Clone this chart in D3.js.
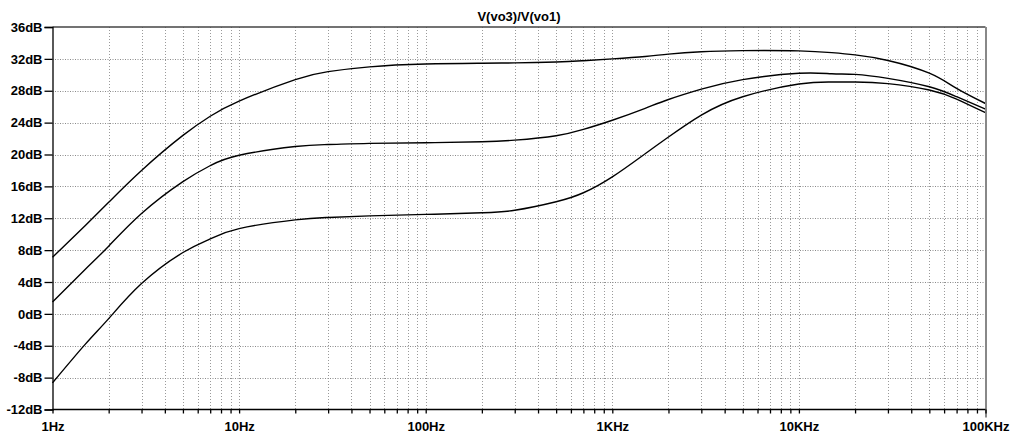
<!DOCTYPE html>
<html>
<head>
<meta charset="utf-8">
<script src="https://cdn.jsdelivr.net/npm/d3@7"></script>
<style>
  html, body { margin: 0; padding: 0; background: #fff; }
  svg { display: block; }
  text { font-family: "Liberation Sans", Arial, sans-serif; font-weight: bold; font-size: 13px; fill: #000; }
</style>
</head>
<body>
<svg id="chart" width="1011" height="435"></svg>
<script>
// Frequency points (Hz) of the AC sweep
const freqs = [1, 1.5, 2, 3, 5, 7, 10, 20, 30, 50, 100, 200, 300, 500, 700, 1000, 1500, 2000, 3000, 5000, 10000, 15000, 20000, 30000, 50000, 70000, 100000];

// Gain V(vo3)/V(vo1) in dB, three traces
const gainTop = [7.1, 11.1, 14.0, 18.0, 22.4, 24.8, 26.7, 29.4, 30.4, 31.0, 31.35, 31.45, 31.5, 31.6, 31.77, 32.0, 32.3, 32.6, 32.9, 33.03, 33.0, 32.78, 32.5, 31.8, 30.2, 28.3, 26.4];
const gainMid = [1.5, 5.6, 8.5, 12.6, 16.6, 18.6, 19.9, 21.0, 21.25, 21.4, 21.48, 21.6, 21.8, 22.36, 23.15, 24.3, 25.8, 26.9, 28.2, 29.4, 30.2, 30.14, 30.06, 29.56, 28.5, 27.25, 25.7];
const gainLow = [-8.66, -3.8, -0.6, 3.8, 7.7, 9.4, 10.7, 11.8, 12.1, 12.3, 12.48, 12.69, 13.0, 14.07, 15.2, 17.2, 20.1, 22.2, 24.95, 27.25, 28.84, 29.1, 29.1, 28.9, 28.1, 26.96, 25.24];

// Axis ticks
const xMajor = [1, 10, 100, 1000, 10000, 100000];
const xLabels = ["1Hz", "10Hz", "100Hz", "1KHz", "10KHz", "100KHz"];
const yTicks = [-12, -8, -4, 0, 4, 8, 12, 16, 20, 24, 28, 32, 36];
const title = "V(vo3)/V(vo1)";

const svg = d3.select("#chart");
const plotL = 52.5, plotR = 985.5, plotT = 27, plotB = 409.5;

const x = d3.scaleLog().domain([1, 100000]).range([plotL, plotR]);
const y = d3.scaleLinear().domain([-12, 36]).range([plotB, plotT]);

// every 1..9 step of each decade
const xAll = [];
for (let d = 1; d < 100000; d *= 10) for (let k = 1; k < 10; k++) xAll.push(d * k);
xAll.push(100000);

// grid
const grid = svg.append("g");
grid.selectAll("line.v").data(xAll.filter(v => v > 1 && v < 100000)).join("line")
  .attr("x1", d => Math.round(x(d)) + 0.5).attr("x2", d => Math.round(x(d)) + 0.5)
  .attr("y1", plotT).attr("y2", plotB)
  .attr("stroke", "#9a9a9a").attr("stroke-width", 1).attr("stroke-dasharray", "1,2");
grid.selectAll("line.h").data(yTicks.filter(v => v > -12 && v < 36)).join("line")
  .attr("y1", d => Math.round(y(d)) + 0.5).attr("y2", d => Math.round(y(d)) + 0.5)
  .attr("x1", plotL).attr("x2", plotR)
  .attr("stroke", "#8a8a8a").attr("stroke-width", 1).attr("stroke-dasharray", "1,1.5");

// traces
const line = d3.line()
  .x((d, i) => x(freqs[i]))
  .y(d => y(d))
  .curve(d3.curveNatural);
svg.append("g").selectAll("path").data([gainTop, gainMid, gainLow]).join("path")
  .attr("d", line)
  .attr("fill", "none").attr("stroke", "#000").attr("stroke-width", 1.4);

// frame: top and right edges
svg.append("line").attr("x1", plotL).attr("x2", plotR).attr("y1", plotT).attr("y2", plotT)
  .attr("stroke", "#444").attr("stroke-width", 1.5);
svg.append("line").attr("x1", plotR + 0.5).attr("x2", plotR + 0.5).attr("y1", plotT).attr("y2", plotB + 8)
  .attr("stroke", "#888").attr("stroke-width", 2);

// y axis
const yAxis = d3.axisLeft(y).tickValues(yTicks).tickSize(8).tickPadding(2).tickFormat(d => d + "dB");
const gy = svg.append("g").attr("transform", `translate(${plotL},0)`).call(yAxis);
gy.selectAll("path, line").attr("stroke", "#000").attr("stroke-width", 1.3);
gy.selectAll("text").attr("font-size", 13).attr("font-family", null);

// x axis
const labelOf = new Map(xMajor.map((v, i) => [v, xLabels[i]]));
const xAxis = d3.axisBottom(x).tickValues(xAll).tickSize(4).tickPadding(8)
  .tickFormat(d => labelOf.get(d) || "");
const gx = svg.append("g").attr("transform", `translate(0,${plotB})`).call(xAxis);
gx.selectAll("path, line").attr("stroke", "#000").attr("stroke-width", 1.3);
gx.select(".domain").attr("d", `M${plotL},0H${plotR}`);
gx.selectAll("text").attr("font-size", 13).attr("font-family", null);

// title
svg.append("text").attr("x", (plotL + plotR) / 2).attr("y", 21)
  .attr("text-anchor", "middle").text(title);
</script>
</body>
</html>
